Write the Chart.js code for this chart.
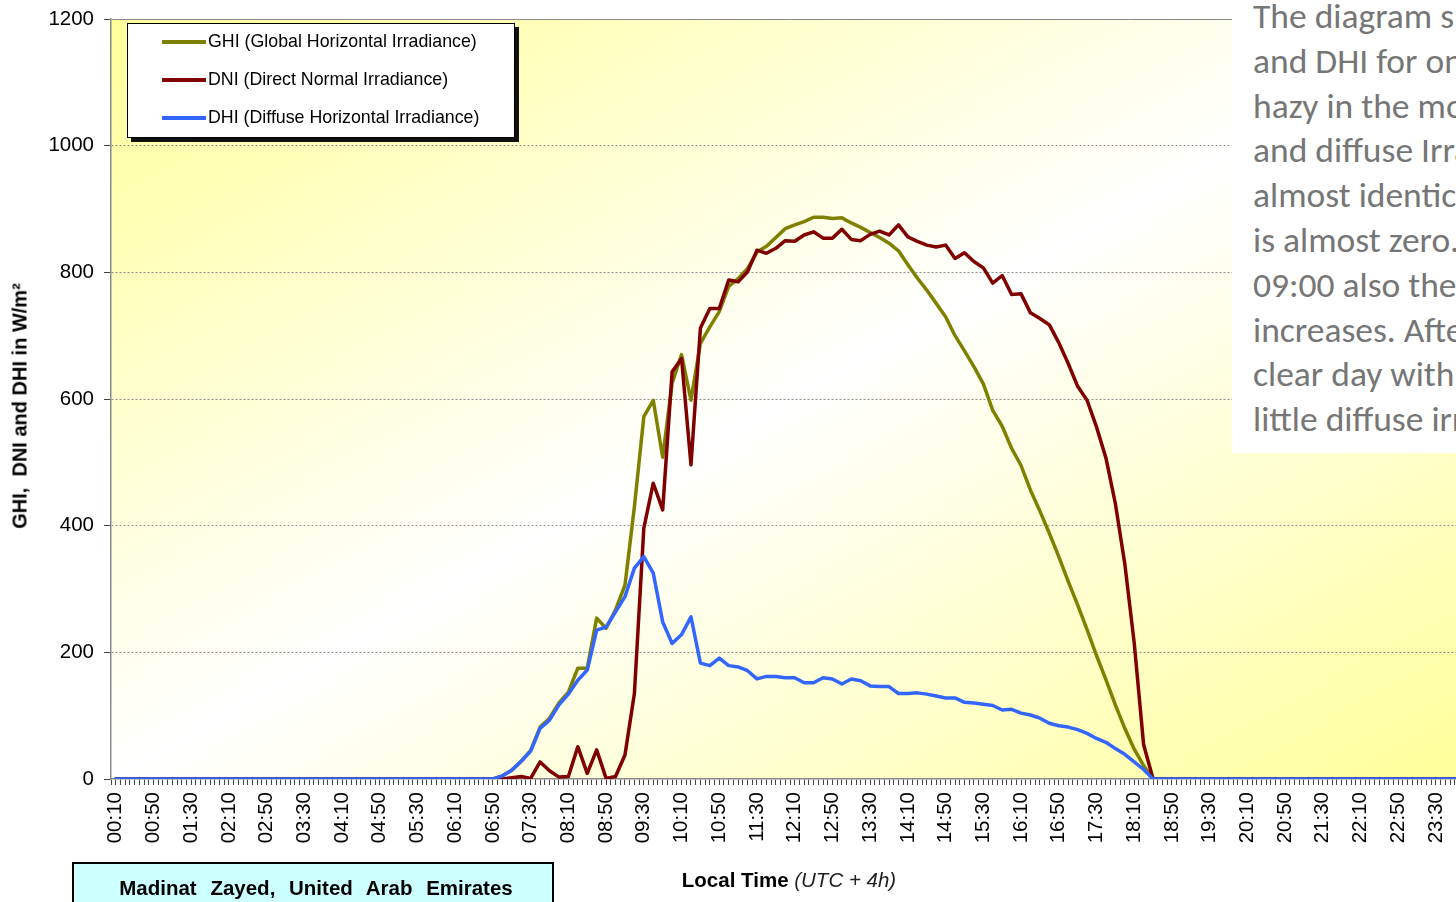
<!DOCTYPE html>
<html>
<head>
<meta charset="utf-8">
<script src="https://cdn.jsdelivr.net/npm/chart.js@4.4.1/dist/chart.umd.min.js"></script>
<style>
  html, body { margin: 0; padding: 0; background: #fff; width: 1456px; height: 902px; overflow: hidden; }
  #wrap { position: relative; width: 1456px; height: 902px; overflow: hidden; font-family: 'Liberation Sans', Arial, sans-serif; }
  #c { position: absolute; left: 0; top: 0; }
  #legend { position: absolute; left: 127px; top: 23px; width: 386px; height: 113px; background: #fff;
            border: 1px solid #000; box-shadow: 4px 4px 0 #111; }
  .lg { position: absolute; left: 34px; height: 20px; white-space: nowrap; font-size: 17.8px; color: #000; }
  .lg span.sw { position: absolute; left: 0; top: 8px; width: 44px; height: 3.5px; }
  .lg span.tx { position: absolute; left: 46px; top: -1px; }
  #ytitle { position: absolute; left: 20px; top: 406px; transform: translate(-50%, -50%) rotate(-90deg);
            white-space: nowrap; font-weight: bold; font-size: 20px; color: #000; }
  #xtitle { position: absolute; left: 789px; top: 880px; transform: translate(-50%, -50%);
            white-space: nowrap; font-size: 20.5px; color: #000; }
  #xtitle i { color: #222; }
  #loc { position: absolute; left: 72px; top: 862px; width: 478px; height: 50px; background: #CCFFFF;
         border: 2px solid #000; }
  #loc div { position: absolute; left: 0; right: 0; top: 12px; text-align: center; font-weight: bold;
             font-size: 20.5px; word-spacing: 8px; color: #000; white-space: nowrap; padding-left: 6px; }
  #note { position: absolute; left: 1232px; top: 0; width: 400px; height: 453px; background: #fff; }
  #note .ln { position: absolute; left: 21px; white-space: nowrap; font-family: Carlito, Calibri, Lato, sans-serif;
              font-size: 35.5px; line-height: 44.8px; height: 44.8px; color: #767676; }
</style>
</head>
<body>
<div id="wrap">
  <canvas id="c" width="1500" height="902" style="width:1500px;height:902px"></canvas>
  <div id="legend"></div>
  <div id="ytitle">GHI,&nbsp; DNI and DHI in W/m²</div>
  <div id="xtitle"><b>Local Time</b> <i>(UTC + 4h)</i></div>
  <div id="loc"><div>Madinat Zayed, United Arab Emirates</div></div>
  <div id="note"></div>
</div>
<script>
// Local time of each 10-minute measurement (UTC + 4h)
const times = [
  '00:10','00:20','00:30','00:40','00:50','01:00','01:10','01:20','01:30','01:40','01:50','02:00',
  '02:10','02:20','02:30','02:40','02:50','03:00','03:10','03:20','03:30','03:40','03:50','04:00',
  '04:10','04:20','04:30','04:40','04:50','05:00','05:10','05:20','05:30','05:40','05:50','06:00',
  '06:10','06:20','06:30','06:40','06:50','07:00','07:10','07:20','07:30','07:40','07:50','08:00',
  '08:10','08:20','08:30','08:40','08:50','09:00','09:10','09:20','09:30','09:40','09:50','10:00',
  '10:10','10:20','10:30','10:40','10:50','11:00','11:10','11:20','11:30','11:40','11:50','12:00',
  '12:10','12:20','12:30','12:40','12:50','13:00','13:10','13:20','13:30','13:40','13:50','14:00',
  '14:10','14:20','14:30','14:40','14:50','15:00','15:10','15:20','15:30','15:40','15:50','16:00',
  '16:10','16:20','16:30','16:40','16:50','17:00','17:10','17:20','17:30','17:40','17:50','18:00',
  '18:10','18:20','18:30','18:40','18:50','19:00','19:10','19:20','19:30','19:40','19:50','20:00',
  '20:10','20:20','20:30','20:40','20:50','21:00','21:10','21:20','21:30','21:40','21:50','22:00',
  '22:10','22:20','22:30','22:40','22:50','23:00','23:10','23:20','23:30','23:40','23:50','00:00'
];

// Global horizontal irradiance, W/m²
const ghi = [
  0,0,0,0,0,0,0,0,0,0,0,0,
  0,0,0,0,0,0,0,0,0,0,0,0,
  0,0,0,0,0,0,0,0,0,0,0,0,
  0,0,0,0,0,5,14,28,45,82,96,120,
  137,175,175,254,238,267,306,430,572,598,508,625,
  670,598,688,714,738,778,790,806,832,841,855,869,
  875,880,887,887,885,886,878,871,863,855,846,834,
  812,791,772,751,730,700,676,651,624,582,557,522,
  495,456,423,388,351,312,275,236,195,157,117,80,
  47,21,0,0,0,0,0,0,0,0,0,0,
  0,0,0,0,0,0,0,0,0,0,0,0,
  0,0,0,0,0,0,0,0,0,0,0,0
];

// Direct normal irradiance, W/m²
const dni = [
  0,0,0,0,0,0,0,0,0,0,0,0,
  0,0,0,0,0,0,0,0,0,0,0,0,
  0,0,0,0,0,0,0,0,0,0,0,0,
  0,0,0,0,0,0,2,4,1,27,13,3,
  4,51,9,46,1,4,38,135,396,467,425,643,
  664,496,712,743,743,788,785,801,835,830,838,850,
  849,859,864,854,854,868,852,850,860,865,859,875,
  856,849,843,840,843,822,831,817,807,783,795,765,
  766,736,727,717,689,656,620,598,556,507,435,340,
  215,54,0,0,0,0,0,0,0,0,0,0,
  0,0,0,0,0,0,0,0,0,0,0,0,
  0,0,0,0,0,0,0,0,0,0,0,0
];

// Diffuse horizontal irradiance, W/m²
const dhi = [
  0,0,0,0,0,0,0,0,0,0,0,0,
  0,0,0,0,0,0,0,0,0,0,0,0,
  0,0,0,0,0,0,0,0,0,0,0,0,
  0,0,0,0,0,5,14,28,44,80,93,117,
  134,156,172,235,240,264,288,333,351,325,248,214,
  228,256,183,179,191,179,177,171,158,162,162,160,
  160,152,152,160,158,150,158,155,147,146,146,135,
  135,136,134,131,128,128,121,120,118,116,109,110,
  104,101,96,88,84,82,78,72,64,58,48,39,
  27,15,0,0,0,0,0,0,0,0,0,0,
  0,0,0,0,0,0,0,0,0,0,0,0,
  0,0,0,0,0,0,0,0,0,0,0,0
];

// Y axis tick values
const yTicks = [0, 200, 400, 600, 800, 1000, 1200];

const seriesNames = [
  'GHI (Global Horizontal Irradiance)',
  'DNI (Direct Normal Irradiance)',
  'DHI (Diffuse Horizontal Irradiance)'
];
const seriesColors = ['#808000', '#800000', '#3366FF'];

// Explanatory note beside the chart
const noteLines = [
  'The diagram shows GHI, DNI',
  'and DHI for one day. It was',
  'hazy in the morning, so global',
  'and diffuse Irradiance are',
  'almost identical and the DNI',
  'is almost zero. From about',
  '09:00 also the direct part',
  'increases. After 10:00 it is a',
  'clear day with high DNI and',
  'little diffuse irradiance.'
];

const FONT = "'Liberation Sans', Arial, sans-serif";

// legend
const legendEl = document.getElementById('legend');
seriesNames.forEach((name, k) => {
  const row = document.createElement('div');
  row.className = 'lg';
  row.style.top = (8 + k * 38) + 'px';
  row.innerHTML = '<span class="sw" style="background:' + seriesColors[k] + '"></span><span class="tx"></span>';
  row.querySelector('.tx').textContent = name;
  legendEl.appendChild(row);
});

// note text
const noteEl = document.getElementById('note');
noteLines.forEach((t, k) => {
  const d = document.createElement('div');
  d.className = 'ln';
  d.style.top = (-6 + k * 44.8) + 'px';
  d.textContent = t;
  noteEl.appendChild(d);
});

const toPoints = arr => arr.map((v, i) => ({ x: i, y: v }));

// yellow-white-yellow diagonal fill of the plot area
const plotBackground = {
  id: 'plotBackground',
  beforeDraw(chart) {
    const { ctx, chartArea: a } = chart;
    ctx.save();
    ctx.translate(a.left, a.top);
    ctx.scale(a.right - a.left, a.bottom - a.top);
    const g = ctx.createLinearGradient(0, 0, 1, 1);
    g.addColorStop(0, '#FFFF99');
    g.addColorStop(0.5, '#FFFFFF');
    g.addColorStop(1, '#FFFF99');
    ctx.fillStyle = g;
    ctx.fillRect(0, 0, 1, 1);
    ctx.restore();
  }
};

new Chart(document.getElementById('c'), {
  type: 'line',
  data: {
    datasets: [
      { label: seriesNames[0], data: toPoints(ghi), borderColor: seriesColors[0], order: 2 },
      { label: seriesNames[1], data: toPoints(dni), borderColor: seriesColors[1], order: 1 },
      { label: seriesNames[2], data: toPoints(dhi), borderColor: seriesColors[2], order: 0 }
    ]
  },
  options: {
    responsive: false,
    animation: false,
    devicePixelRatio: 1,
    layout: { padding: { left: 0, top: 19, right: 31, bottom: 0 } },
    elements: {
      line: { borderWidth: 3.5, tension: 0, borderJoinStyle: 'round', borderCapStyle: 'round' },
      point: { radius: 0, hoverRadius: 0 }
    },
    plugins: { legend: { display: false }, tooltip: { enabled: false } },
    scales: {
      x: {
        type: 'linear',
        min: -0.5,
        max: times.length - 0.5,
        afterBuildTicks(scale) {
          const t = [];
          for (let v = -0.5; v <= times.length - 0.5 + 1e-9; v += 0.5) t.push({ value: v });
          scale.ticks = t;
        },
        afterFit(scale) {
          scale.height = 123;
          scale.paddingLeft = 0;
          scale.paddingRight = 0;
        },
        ticks: {
          autoSkip: false,
          minRotation: 90,
          maxRotation: 90,
          padding: 7,
          color: '#000',
          font: { family: FONT, size: 20.5 },
          callback(value) {
            return (Number.isInteger(value) && value % 4 === 0 && value < times.length) ? times[value] : '';
          }
        },
        grid: { display: true, drawOnChartArea: false, drawTicks: true, tickLength: 6, tickColor: '#444', tickWidth: 1 },
        border: { display: true, color: '#8a8a8a', width: 1.5 }
      },
      y: {
        min: 0,
        max: 1200,
        afterBuildTicks(scale) { scale.ticks = yTicks.map(v => ({ value: v })); },
        afterFit(scale) {
          scale.width = 111;
          scale.paddingTop = 0;
          scale.paddingBottom = 0;
        },
        ticks: {
          padding: 10,
          color: '#000',
          font: { family: FONT, size: 20.5 },
          callback: value => String(value)
        },
        grid: {
          drawTicks: true,
          tickLength: 7,
          tickColor: '#444',
          lineWidth: 1,
          color: ctx => (ctx.tick && ctx.tick.value === 0) ? 'rgba(0,0,0,0)'
                       : (ctx.tick && ctx.tick.value === 1200) ? '#8a8a8a' : '#8f8f8f'
        },
        border: {
          display: true, color: '#8a8a8a', width: 1.5,
          dash: ctx => (ctx.tick && ctx.tick.value === 1200) ? [] : [2, 2]
        }
      }
    }
  },
  plugins: [plotBackground]
});
</script>
</body>
</html>
